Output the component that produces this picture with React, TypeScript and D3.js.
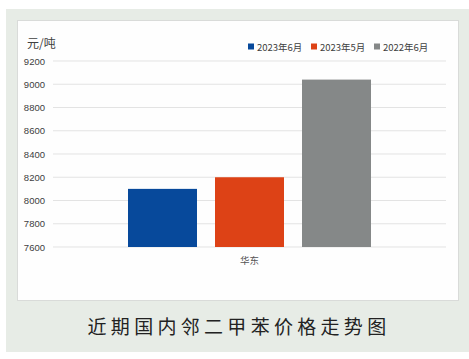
import React, { useEffect, useRef } from 'react'
import * as d3 from 'd3'

const categories = ['华东']
const seriesNames = ['2023年6月', '2023年5月', '2022年6月']
const seriesValues = [8100, 8200, 9040]
const seriesColors = ['#07499b', '#dd4216', '#858888']
const yTicks = [7600, 7800, 8000, 8200, 8400, 8600, 8800, 9000, 9200]
const unitLabel = '元/吨'
const caption = '近期国内邻二甲苯价格走势图'

const cjk = '"Noto Sans CJK SC", "Noto Sans", sans-serif'

export default function App() {
    const node = useRef<SVGSVGElement | null>(null)

    useEffect(() => {
        const svg = d3.select(node.current)
        svg.selectAll('*').remove()

        // backgrounds
        svg.append('rect').attr('x', 6).attr('y', 9).attr('width', 463).attr('height', 343).attr('fill', '#e7ece6')
        svg.append('rect').attr('x', 17.5).attr('y', 20.5).attr('width', 441).attr('height', 280)
            .attr('fill', '#fefefe').attr('stroke', '#d9dbd9')

        const left = 53, right = 446, top = 61, bottom = 247
        const yScale = d3.scaleLinear().domain([7600, 9200]).range([bottom, top])

        const groupScale = d3.scaleBand().domain(categories).range([left, right])
        const xScale = d3.scaleBand().domain(seriesNames)
            .range([128, 371]).paddingInner(0.207).paddingOuter(0)

        // grid
        const g = svg.append('g')
        g.selectAll('line.grid').data(yTicks).enter().append('line')
            .attr('x1', left).attr('x2', right)
            .attr('y1', d => yScale(d)).attr('y2', d => yScale(d))
            .attr('stroke', '#e3e3e3').attr('stroke-width', 1)

        g.selectAll('text.tick').data(yTicks).enter().append('text')
            .attr('x', 45).attr('y', d => yScale(d) + 3.5)
            .attr('text-anchor', 'end')
            .style('font-family', '"Liberation Sans", sans-serif')
            .style('font-size', '9.5px')
            .style('fill', '#404040')
            .text(d => d)

        // bars
        g.selectAll('rect.bar').data(seriesValues).enter().append('rect')
            .attr('x', (d, i) => xScale(seriesNames[i]) as number)
            .attr('y', d => yScale(d))
            .attr('width', xScale.bandwidth())
            .attr('height', d => yScale(7600) - yScale(d))
            .attr('fill', (d, i) => seriesColors[i])

        // category label
        g.selectAll('text.cat').data(categories).enter().append('text')
            .attr('x', d => (groupScale(d) as number) + groupScale.bandwidth() / 2)
            .attr('y', 264)
            .attr('text-anchor', 'middle')
            .style('font-family', cjk)
            .style('font-size', '9.5px')
            .style('fill', '#555')
            .text(d => d)

        // unit
        svg.append('text').attr('x', 27).attr('y', 48)
            .style('font-family', cjk).style('font-size', '12px').style('fill', '#404040')
            .text(unitLabel)

        // legend
        const legendX = [248, 311, 374]
        const lg = svg.append('g')
        seriesNames.forEach((name, i) => {
            lg.append('rect').attr('x', legendX[i]).attr('y', 43.5).attr('width', 6).attr('height', 6)
                .attr('fill', seriesColors[i])
            lg.append('text').attr('x', legendX[i] + 9).attr('y', 50.5)
                .style('font-family', cjk).style('font-size', '9.5px').style('fill', '#404040')
                .text(name)
        })

        // caption
        svg.append('text').attr('x', 239).attr('y', 334)
            .attr('text-anchor', 'middle')
            .style('font-family', cjk).style('font-size', '19px')
            .style('letter-spacing', '4.3px')
            .style('fill', '#222')
            .text(caption)
    }, [])

    return (
        <svg ref={node} width={469} height={359}
            style={{ position: 'absolute', left: 0, top: 0, background: '#fff' }} />
    )
}
